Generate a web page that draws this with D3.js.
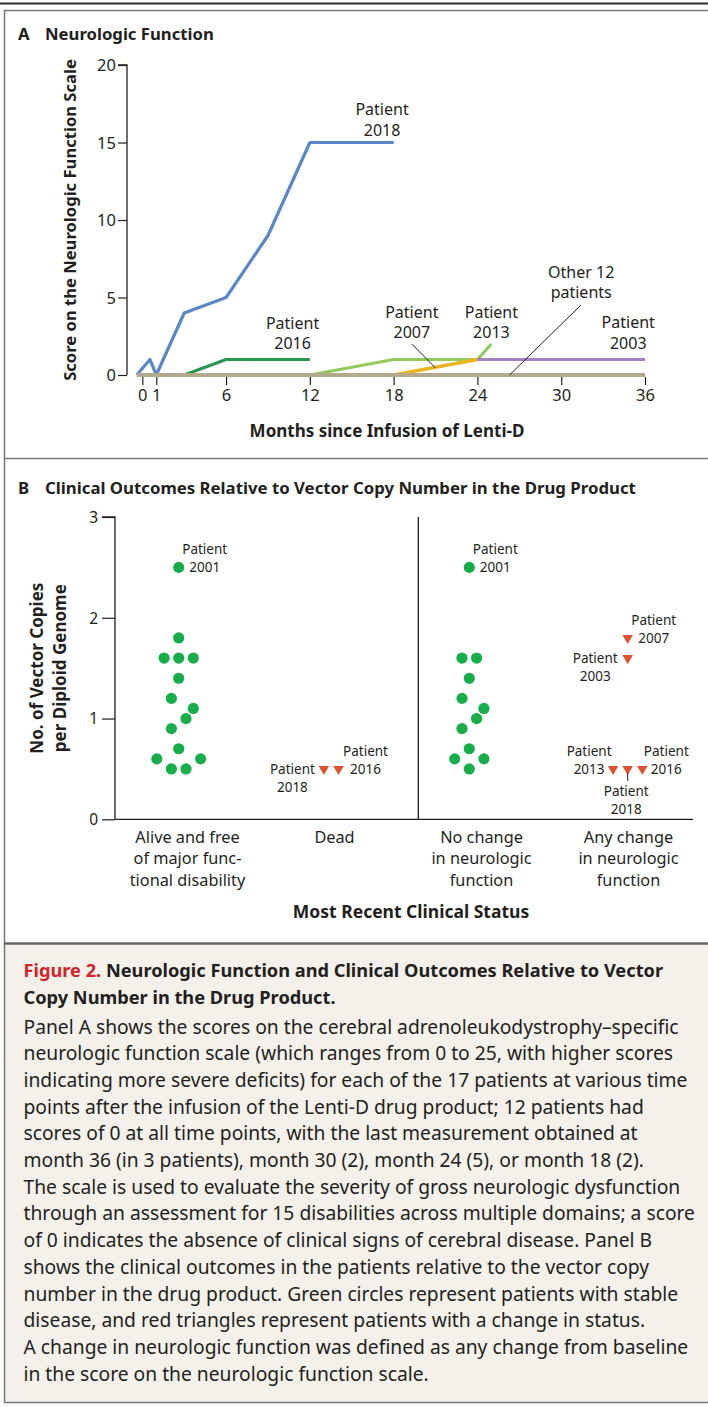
<!DOCTYPE html>
<html>
<head>
<meta charset="utf-8">
<script src="https://cdn.jsdelivr.net/npm/d3@7"></script>
<style>
  body { margin: 0; background: #fff; }
  svg { display: block; font-family: 'Noto Sans', sans-serif; }
</style>
</head>
<body>
<div id="chart"></div>
<script>
// ---- panel A data (months, score) ----
const monthTicks = [0, 1, 6, 12, 18, 24, 30, 36]
const scoreTicks = [0, 5, 10, 15, 20]
const patient2018 = [[-0.4, 0], [0.55, 1], [1, 0], [3, 4], [6, 5], [9, 9], [12, 15], [18, 15]]
const patient2016 = [[3, 0], [6, 1], [12, 1]]
const patient2013 = [[12, 0], [18, 1], [24, 1], [25, 2]]
const patient2007 = [[18, 0], [24, 1]]
const patient2003 = [[24, 1], [36, 1]]
const otherPatients = [[-0.4, 0], [36, 0]]

// ---- panel B data (vector copies, column slot) ----
const copyTicks = [0, 1, 2, 3]
const outcomeLabels = [
  ['Alive and free', 'of major func-', 'tional disability'],
  ['Dead'],
  ['No change', 'in neurologic', 'function'],
  ['Any change', 'in neurologic', 'function']
]
const aliveCopies = [2.5, 1.8, 1.6, 1.6, 1.6, 1.4, 1.2, 1.1, 1.0, 0.9, 0.7, 0.6, 0.6, 0.5, 0.5]
const aliveSlots = [0, 0, -2, 0, 2, 0, -1, 2, 1, -1, 0, -3, 3, -1, 1]
const aliveIds = ['2001', '', '', '', '', '', '', '', '', '', '', '', '', '', '']
const deadCopies = [0.5, 0.5]
const deadSlots = [-1, 1]
const deadIds = ['2018', '2016']
const noChangeCopies = [2.5, 1.6, 1.6, 1.4, 1.2, 1.1, 1.0, 0.9, 0.7, 0.6, 0.6, 0.5]
const noChangeSlots = [0, -1, 1, 0, -1, 2, 1, -1, 0, -2, 2, 0]
const noChangeIds = ['2001', '', '', '', '', '', '', '', '', '', '', '']
const anyChangeCopies = [1.8, 1.6, 0.5, 0.5, 0.5]
const anyChangeSlots = [0, 0, -2, 0, 2]
const anyChangeIds = ['2007', '2003', '2013', '2018', '2016']

const captionTitle = ['Neurologic Function and Clinical Outcomes Relative to Vector', 'Copy Number in the Drug Product.']
const captionBody = [
  'Panel A shows the scores on the cerebral adrenoleukodystrophy\u2013specific',
  'neurologic function scale (which ranges from 0 to 25, with higher scores',
  'indicating more severe deficits) for each of the 17 patients at various time',
  'points after the infusion of the Lenti-D drug product; 12 patients had',
  'scores of 0 at all time points, with the last measurement obtained at',
  'month 36 (in 3 patients), month 30 (2), month 24 (5), or month 18 (2).',
  'The scale is used to evaluate the severity of gross neurologic dysfunction',
  'through an assessment for 15 disabilities across multiple domains; a score',
  'of 0 indicates the absence of clinical signs of cerebral disease. Panel B',
  'shows the clinical outcomes in the patients relative to the vector copy',
  'number in the drug product. Green circles represent patients with stable',
  'disease, and red triangles represent patients with a change in status.',
  'A change in neurologic function was defined as any change from baseline',
  'in the score on the neurologic function scale.'
]

const width = 708
const height = 1407
const ink = '#231f20'

const svg = d3.select('#chart').append('svg').attr('width', width).attr('height', height)

// frame
svg.append('rect').attr('x', 0).attr('y', 0).attr('width', width).attr('height', height).attr('fill', '#fff')
svg.append('rect').attr('x', 5).attr('y', 943).attr('width', width).attr('height', 460).attr('fill', '#f4f1ea')
svg.append('line').attr('x1', 0).attr('x2', width).attr('y1', 3.5).attr('y2', 3.5).attr('stroke', '#2b2b2b').attr('stroke-width', 2)
svg.append('rect').attr('x', 4.5).attr('y', 10.5).attr('width', width + 10).attr('height', 1392)
  .attr('fill', 'none').attr('stroke', '#777').attr('stroke-width', 1.5)
svg.append('line').attr('x1', 4).attr('x2', width).attr('y1', 458.5).attr('y2', 458.5).attr('stroke', '#777').attr('stroke-width', 1.5)
svg.append('line').attr('x1', 4).attr('x2', width).attr('y1', 943.5).attr('y2', 943.5).attr('stroke', '#666').attr('stroke-width', 2.5)

function panelTitle(letter, title, y, size) {
  const t = svg.append('text').attr('y', y).attr('fill', ink).attr('font-weight', 700).attr('font-size', size)
  t.append('tspan').attr('x', 18).text(letter)
  t.append('tspan').attr('x', 45).text(title)
}
panelTitle('A', 'Neurologic Function', 40, 16.7)
panelTitle('B', 'Clinical Outcomes Relative to Vector Copy Number in the Drug Product', 494, 16.8)

// ---------------- panel A ----------------
const x = d3.scaleLinear().domain([0, 36]).range([142.3, 645])
const y = d3.scaleLinear().domain([0, 20]).range([375, 65])

const gA = svg.append('g')

gA.append('g')
  .attr('transform', 'translate(127,0)')
  .call(d3.axisLeft(y).tickValues(scoreTicks).tickSize(9).tickPadding(2))
  .call((g) => {
    g.select('.domain').attr('d', `M-9,${y(20)}H0V${y(0)}`).attr('stroke', ink).attr('stroke-width', 1.3)
    g.selectAll('.tick line').attr('stroke', ink).attr('stroke-width', 1.2)
    g.selectAll('.tick text').attr('fill', ink).attr('font-size', 16.5).attr('font-family', 'Noto Sans').attr('dy', '0.34em')
  })

gA.append('g')
  .attr('transform', 'translate(0,377)')
  .call(d3.axisBottom(x).tickValues(monthTicks).tickSize(8).tickPadding(3))
  .call((g) => {
    g.select('.domain').remove()
    g.selectAll('.tick line').attr('stroke', ink).attr('stroke-width', 1.2)
    g.selectAll('.tick text').attr('fill', ink).attr('font-size', 16.5).attr('font-family', 'Noto Sans').attr('dy', '0.8em')
  })

const line = d3.line().x((d) => x(d[0])).y((d) => y(d[1]))
const series = [
  { data: patient2016, color: '#2a9652', w: 3.2 },
  { data: patient2013, color: '#93c95e', w: 3.2 },
  { data: patient2003, color: '#a37fc3', w: 3.2 },
  { data: patient2007, color: '#e9b622', w: 3.8 },
  { data: patient2018, color: '#5b87c8', w: 3.2 },
  { data: otherPatients, color: '#b3a98c', w: 4 }
]
gA.selectAll('path.series')
  .data(series)
  .enter()
  .append('path')
  .attr('class', 'series')
  .attr('d', (d) => line(d.data))
  .attr('fill', 'none')
  .attr('stroke', (d) => d.color)
  .attr('stroke-width', (d) => d.w)
  .attr('stroke-linejoin', 'round')

// annotations in data coordinates
const notesA = [
  { m: 17.17, s: 16.77, lines: ['Patient', '2018'] },
  { m: 10.76, s: 2.97, lines: ['Patient', '2016'] },
  { m: 19.3, s: 3.68, lines: ['Patient', '2007'] },
  { m: 25.0, s: 3.68, lines: ['Patient', '2013'] },
  { m: 31.43, s: 6.26, lines: ['Other 12', 'patients'] },
  { m: 34.8, s: 3.03, lines: ['Patient', '2003'] }
]
notesA.forEach((n) => {
  const t = gA.append('text').attr('text-anchor', 'middle').attr('fill', ink).attr('font-size', 16)
  n.lines.forEach((l, i) => {
    t.append('tspan').attr('x', x(n.m)).attr('y', y(n.s) + i * 20.5).text(l)
  })
})
const pointersA = [
  [[19.3, 2.0], [21, 0.45]],
  [[31.4, 4.5], [26.3, 0]]
]
gA.selectAll('line.pointer')
  .data(pointersA)
  .enter()
  .append('line')
  .attr('x1', (d) => x(d[0][0]))
  .attr('y1', (d) => y(d[0][1]))
  .attr('x2', (d) => x(d[1][0]))
  .attr('y2', (d) => y(d[1][1]))
  .attr('stroke', ink)
  .attr('stroke-width', 1)

gA.append('text')
  .attr('x', 387).attr('y', 437)
  .attr('text-anchor', 'middle').attr('font-weight', 700).attr('font-size', 17).attr('fill', ink)
  .text('Months since Infusion of Lenti-D')
gA.append('text')
  .attr('transform', `translate(76,${y(10)}) rotate(-90)`)
  .attr('text-anchor', 'middle').attr('font-weight', 700).attr('font-size', 16.6).attr('fill', ink)
  .text('Score on the Neurologic Function Scale')

// ---------------- panel B ----------------
const xB = d3.scaleBand().domain(d3.range(4)).range([114, 702])
const yB = d3.scaleLinear().domain([0, 3]).range([819.3, 517])
const columnShift = [-8.8, -3.3, -12.2, -0.8]
const slotWidth = 7.3

const gB = svg.append('g')

gB.append('g')
  .attr('transform', 'translate(115,0)')
  .call(d3.axisLeft(yB).tickValues(copyTicks).tickFormat(d3.format('d')).tickSize(13).tickPadding(4))
  .call((g) => {
    g.select('.domain').attr('d', `M-13,${yB(3)}H0V${yB(0)}`).attr('stroke', ink).attr('stroke-width', 1.3)
    g.selectAll('.tick line').attr('stroke', ink).attr('stroke-width', 1.2)
    g.selectAll('.tick text').attr('fill', ink).attr('font-size', 15.5).attr('font-family', 'Noto Sans').attr('dy', '0.34em')
  })
gB.append('line')
  .attr('x1', 115).attr('x2', 693).attr('y1', yB(0)).attr('y2', yB(0))
  .attr('stroke', ink).attr('stroke-width', 1.3)
gB.append('line')
  .attr('x1', xB(2) + 10.3).attr('x2', xB(2) + 10.3).attr('y1', yB(3)).attr('y2', yB(0))
  .attr('stroke', ink).attr('stroke-width', 1.3)

outcomeLabels.forEach((lines, i) => {
  const t = gB.append('text').attr('text-anchor', 'middle').attr('fill', ink).attr('font-size', 16.3)
  lines.forEach((l, j) => {
    t.append('tspan').attr('x', xB(i) + xB.bandwidth() / 2).attr('y', 842.5 + j * 21.5).text(l)
  })
})

function points(cat, copies, slots, ids) {
  return copies.map((c, i) => ({
    cat,
    copies: c,
    px: xB(cat) + xB.bandwidth() / 2 + columnShift[cat] + slots[i] * slotWidth,
    py: yB(c),
    id: ids[i]
  }))
}
const stable = [...points(0, aliveCopies, aliveSlots, aliveIds), ...points(2, noChangeCopies, noChangeSlots, noChangeIds)]
const changed = [...points(1, deadCopies, deadSlots, deadIds), ...points(3, anyChangeCopies, anyChangeSlots, anyChangeIds)]

gB.selectAll('circle.stable')
  .data(stable)
  .enter()
  .append('circle')
  .attr('class', 'stable')
  .attr('cx', (d) => d.px)
  .attr('cy', (d) => d.py)
  .attr('r', 5.6)
  .attr('fill', '#17ad4a')

const tri = d3.symbol().type(d3.symbolTriangle).size(48)
gB.selectAll('path.changed')
  .data(changed)
  .enter()
  .append('path')
  .attr('class', 'changed')
  .attr('d', tri)
  .attr('transform', (d) => `translate(${d.px},${d.py}) rotate(180)`)
  .attr('fill', '#e0512f')

// label offsets (dx, dy of first line) relative to each mark
const labelOffsets = {
  '0-2001': [26, -13.5],
  '2-2001': [26, -13.5],
  '1-2018': [-31.5, 5],
  '1-2016': [27, -12.5],
  '3-2007': [26, -12.7],
  '3-2003': [-32.5, 4.5],
  '3-2013': [-24, -12.7],
  '3-2016': [24, -12.7],
  '3-2018': [-1.5, 27.3]
}
;[...stable, ...changed].filter((d) => d.id).forEach((d) => {
  const off = labelOffsets[`${d.cat}-${d.id}`]
  const t = gB.append('text').attr('text-anchor', 'middle').attr('fill', ink).attr('font-size', 13.5)
  t.append('tspan').attr('x', d.px + off[0]).attr('y', d.py + off[1]).text('Patient')
  t.append('tspan').attr('x', d.px + off[0]).attr('y', d.py + off[1] + 18).text(d.id)
  if (d.cat === 3 && d.id === '2018') {
    gB.append('line')
      .attr('x1', d.px).attr('x2', d.px).attr('y1', d.py + 4).attr('y2', d.py + 12)
      .attr('stroke', ink).attr('stroke-width', 1)
  }
})

gB.append('text')
  .attr('x', 411).attr('y', 918)
  .attr('text-anchor', 'middle').attr('font-weight', 700).attr('font-size', 17.5).attr('fill', ink)
  .text('Most Recent Clinical Status')
const yTitle = gB.append('text')
  .attr('transform', `translate(0,${yB(1.5)}) rotate(-90)`)
  .attr('text-anchor', 'middle').attr('font-weight', 700).attr('font-size', 17).attr('fill', ink)
yTitle.append('tspan').attr('x', 0).attr('y', 42.5).text('No. of Vector Copies')
yTitle.append('tspan').attr('x', 0).attr('y', 66).text('per Diploid Genome')

// ---------------- caption ----------------
const cap = svg.append('g')
const titleText = cap.append('text').attr('font-weight', 700).attr('fill', ink).attr('font-size', 18)
titleText.append('tspan').attr('x', 23.5).attr('y', 977).attr('fill', '#d2232a').text('Figure 2.')
titleText.append('tspan').text(' ' + captionTitle[0])
titleText.append('tspan').attr('x', 23.5).attr('y', 1003.5).text(captionTitle[1])
// fit title width to the reference line length
const tw = titleText.node().getBBox().width
titleText.attr('font-size', 18 * 640 / tw)

const body = cap.append('text').attr('fill', ink).attr('font-size', 18)
captionBody.forEach((l, i) => {
  body.append('tspan').attr('x', 23.5).attr('y', 1033.5 + i * 26.7).text(l)
})
const bw = body.node().getBBox().width
body.attr('font-size', 18 * 672 / bw)
</script>
</body>
</html>
